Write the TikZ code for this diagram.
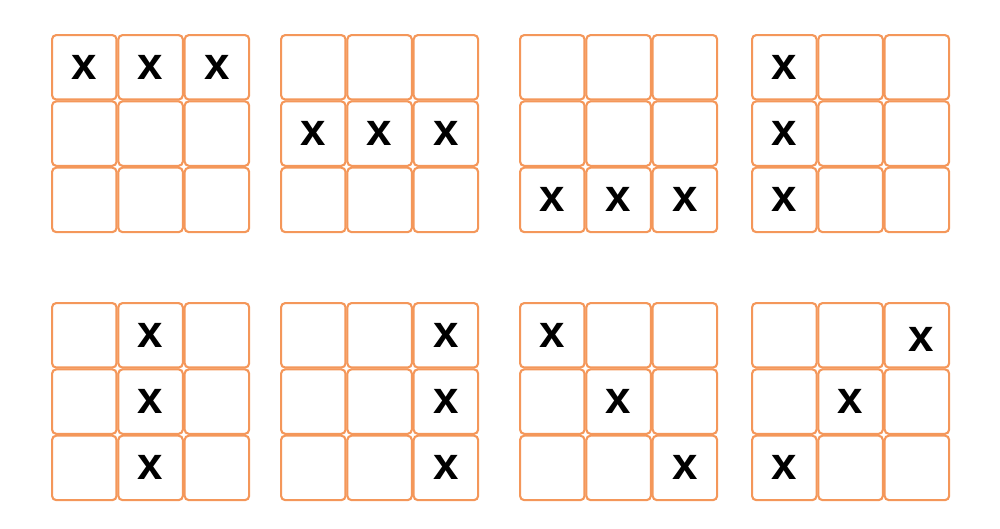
\documentclass[tikz,border=0pt]{standalone}
\usepackage{fontspec}
\setmainfont{Liberation Sans}
\usetikzlibrary{positioning}
\definecolor{cellorange}{HTML}{F4975A}

\begin{document}
\begin{tikzpicture}[x=0.02cm, y=-0.02cm,
		cell/.style ={rectangle, draw=cellorange, fill=white, line width=1.2pt,
			rounded corners=2.4pt, minimum size=1.29cm, inner sep=0pt},
		xmark/.style ={font=\fontsize{26}{26}\selectfont\bfseries, text=black, inner sep=0pt}]
		\useasboundingbox (0,0) rectangle (1000,528);
		% eight boards of 3x3 cells
		\foreach \bx/\by/\b in {51/34/1, 280/34/2, 519/34/3, 751/34/4,
			51/302/5, 280/302/6, 519/302/7, 751/302/8}
		\foreach \r in {1,2,3}
		\foreach \c in {1,2,3}
		\node[cell] (b\b-\r\c) at (\bx+66.3*\c-33, \by+66.3*\r-33) {};
		% the winning lines
		\foreach \n in {b1-11, b1-12, b1-13, b2-21, b2-22, b2-23,
			b3-31, b3-32, b3-33, b4-11, b4-21, b4-31,
			b5-12, b5-22, b5-32, b6-13, b6-23, b6-33,
			b7-11, b7-22, b7-33, b8-22, b8-31}
		\node[xmark] (x-\n) at (\n) {x};
		\node[xmark] (x-b8-13) at ([shift={(4,4)}]b8-13) {x};
\end{tikzpicture}
\end{document}
